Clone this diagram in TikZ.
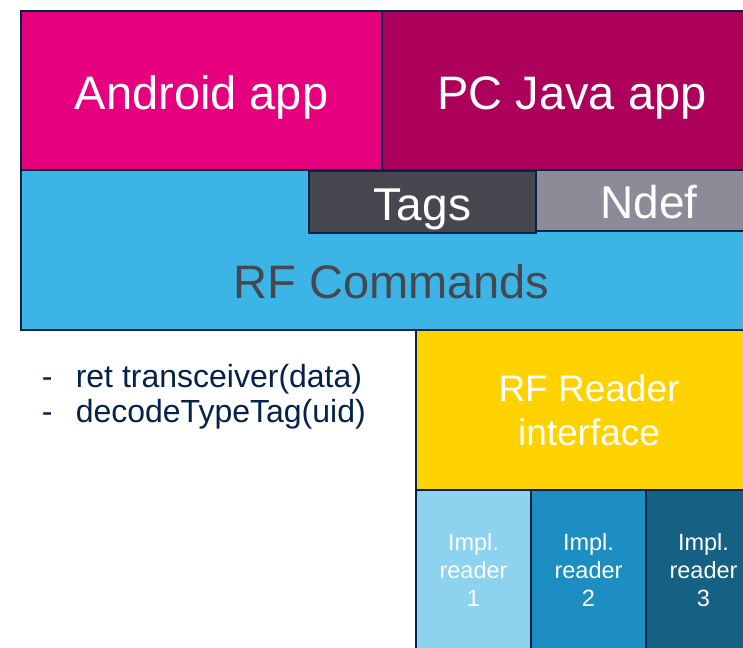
\documentclass[tikz,border=0pt]{standalone}
\usepackage{fontspec}
\setmainfont{Liberation Sans}
\usepackage{xcolor}
\usetikzlibrary{positioning}

\definecolor{stnavy}{HTML}{03234B}
\definecolor{stpink}{HTML}{E6007E}
\definecolor{stplum}{HTML}{AD005A}
\definecolor{stsky}{HTML}{3DB4E6}
\definecolor{stslate}{HTML}{474750}
\definecolor{stgrey}{HTML}{8C8B98}
\definecolor{styellow}{HTML}{FFD200}
\definecolor{stlight}{HTML}{8DD3F0}
\definecolor{stmid}{HTML}{1C8EC2}
\definecolor{stdeep}{HTML}{146183}

\begin{document}
\begin{tikzpicture}[
    x=1pt, y=-1pt,
    layer/.style={draw=stnavy, line width=2.2pt, inner sep=0pt, outer sep=0pt, anchor=north west, text=white, align=center},
    apptext/.style={font=\fontsize{47}{56}\selectfont, text height=37.6pt, text depth=0pt},
    libtext/.style={font=\fontsize{46}{55}\selectfont, text height=36.8pt, text depth=0pt},
    ifacetext/.style={font=\fontsize{37}{44}\selectfont},
    impltext/.style={font=\fontsize{23.5}{28}\selectfont}
]
\useasboundingbox (0,0) rectangle (743,647);
\clip (0,0) rectangle (743,647);
\fill[white] (0,0) rectangle (743,647);

% application layer
\node[layer, apptext, fill=stpink, minimum width=361pt, minimum height=159pt] (android) at (21,11) {Android app};
\node[layer, apptext, fill=stplum, minimum width=380pt, minimum height=159pt, right=0pt of android] (pcjava) {PC Java app};

% library
\node[layer, fill=stsky, minimum width=741pt, minimum height=160pt] (rfcmd) at (android.south west) {};
\node[apptext, text=stslate, anchor=base] (cmdlabel) at ([yshift=32pt]rfcmd.south) {RF Commands};
\node[layer, libtext, fill=stslate, minimum width=227pt, minimum height=62pt] (tags) at (309,171) {Tags};
\node[layer, libtext, fill=stgrey, minimum width=226pt, minimum height=61pt] (ndef) at (536,170) {Ndef};

% reader side
\node[layer, ifacetext, fill=styellow, minimum width=346pt, minimum height=160pt] (reader) at (416,330) {RF Reader\\interface};
\node[layer, impltext, fill=stlight, minimum width=115pt, minimum height=160pt] (impl1) at (reader.south west) {Impl.\\reader\\1};
\node[layer, impltext, fill=stmid, minimum width=115pt, minimum height=160pt, right=0pt of impl1] (impl2) {Impl.\\reader\\2};
\node[layer, impltext, fill=stdeep, minimum width=115pt, minimum height=160pt, right=0pt of impl2] (impl3) {Impl.\\reader\\3};

% calls
\node[anchor=north west, inner sep=0pt, align=left, text=stnavy, font=\fontsize{32}{35}\selectfont] (calls) at (41.6,364)
    {\makebox[34pt][l]{-}ret transceiver(data)\\\makebox[34pt][l]{-}decodeTypeTag(uid)};
\end{tikzpicture}
\end{document}
